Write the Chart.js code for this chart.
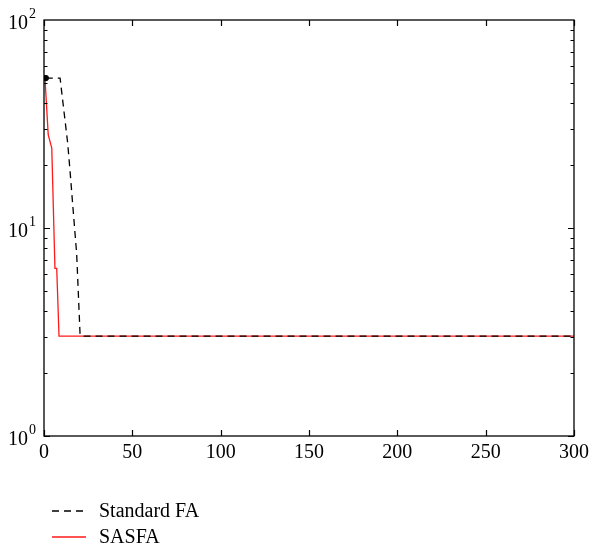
<!DOCTYPE html>
<html>
<head>
<meta charset="utf-8">
<script src="https://cdn.jsdelivr.net/npm/chart.js@4.4.1/dist/chart.umd.min.js"></script>
<style>
    html, body { margin: 0; padding: 0; background: #fff; }
    #wrap { width: 592px; height: 547px; }
</style>
</head>
<body>
<div id="wrap"><canvas id="conv" width="592" height="547"></canvas></div>
<script>
    "use strict";

    // ---------------------------------------------------------
    // Data: best fitness per iteration
    // ---------------------------------------------------------
    const stdIter = [1, 9.1, 13.4, 14.7, 16.2, 18.5, 20.4, 21, 300];
    const stdFit = [52.6, 52.6, 25.6, 19, 13.1, 7.5, 3.1, 3.02, 3.02];

    const sasIter = [0.6, 2.4, 4.4, 6.2, 7.2, 8.5, 300];
    const sasFit = [51.5, 28, 24.2, 6.4, 6.4, 3.02, 3.02];

    const xTicks = [0, 50, 100, 150, 200, 250, 300];
    const yDecades = [0, 1, 2];

    const FONT = '"Liberation Serif", "Times New Roman", serif';

    function toPoints(xs, ys) {
        return xs.map((x, i) => ({ x: x, y: ys[i] }));
    }

    // ---------------------------------------------------------
    // Frame, inward ticks, labels and legend
    // ---------------------------------------------------------
    const framePlugin = {
        id: "frame",
        afterDraw(chart) {
            const ctx = chart.ctx;
            const a = chart.chartArea;
            const xs = chart.scales.x;
            const ys = chart.scales.y;

            ctx.save();
            ctx.strokeStyle = "#000";
            ctx.lineWidth = 1.3;
            ctx.strokeRect(a.left, a.top, a.right - a.left, a.bottom - a.top);

            ctx.lineWidth = 1.2;
            ctx.beginPath();
            // x ticks, bottom and top
            xTicks.forEach((v) => {
                const px = Math.round(xs.getPixelForValue(v)) + 0.5;
                ctx.moveTo(px, a.bottom); ctx.lineTo(px, a.bottom - 6);
                ctx.moveTo(px, a.top); ctx.lineTo(px, a.top + 6);
            });
            // y ticks, left and right (major + minor)
            for (let d = 0; d < 2; d++) {
                for (let m = 1; m <= 9; m++) {
                    const v = m * Math.pow(10, d);
                    const py = Math.round(ys.getPixelForValue(v)) + 0.5;
                    const len = m === 1 ? 6 : 3.5;
                    ctx.moveTo(a.left, py); ctx.lineTo(a.left + len, py);
                    ctx.moveTo(a.right, py); ctx.lineTo(a.right - len, py);
                }
            }
            ctx.stroke();

            // tick labels
            ctx.fillStyle = "#000";
            ctx.font = "20px " + FONT;
            ctx.textAlign = "center";
            ctx.textBaseline = "middle";
            xTicks.forEach((v) => {
                ctx.fillText(String(v), xs.getPixelForValue(v), a.bottom + 17);
            });

            yDecades.forEach((p) => {
                const py = ys.getPixelForValue(Math.pow(10, p));
                ctx.font = "20px " + FONT;
                ctx.textAlign = "right";
                ctx.textBaseline = "middle";
                ctx.fillText("10", 28, py + 4);
                ctx.font = "14px " + FONT;
                ctx.textAlign = "left";
                ctx.fillText(String(p), 29, py - 6);
            });

            // legend
            ctx.textAlign = "left";
            ctx.textBaseline = "middle";
            const rows = [511, 537];
            chart.data.datasets.forEach((ds, i) => {
                const y = rows[i];
                ctx.beginPath();
                ctx.strokeStyle = ds.borderColor;
                ctx.lineWidth = ds.borderWidth;
                ctx.setLineDash(ds.borderDash || []);
                ctx.moveTo(52, y);
                ctx.lineTo(86, y);
                ctx.stroke();
                ctx.setLineDash([]);
                ctx.fillStyle = "#000";
                ctx.font = "20px " + FONT;
                ctx.fillText(ds.label, 99, y + 1);
            });
            ctx.restore();
        },
    };

    new Chart(document.getElementById("conv"), {
        type: "line",
        data: {
            datasets: [
                {
                    label: "Standard FA",
                    data: toPoints(stdIter, stdFit),
                    borderColor: "#000",
                    backgroundColor: "#000",
                    borderWidth: 1.3,
                    borderDash: [7, 5],
                    pointRadius: stdIter.map((_, i) => (i === 0 ? 2.5 : 0)),
                    tension: 0,
                },
                {
                    label: "SASFA",
                    data: toPoints(sasIter, sasFit),
                    borderColor: "#ff1a1a",
                    borderWidth: 1.3,
                    pointRadius: 0,
                    tension: 0,
                },
            ],
        },
        options: {
            responsive: false,
            animation: false,
            layout: { padding: { left: 44, top: 20, right: 18, bottom: 111 } },
            plugins: {
                legend: { display: false },
                tooltip: { enabled: false },
            },
            scales: {
                x: { type: "linear", min: 0, max: 300, display: false },
                y: { type: "logarithmic", min: 1, max: 100, display: false },
            },
        },
        plugins: [framePlugin],
    });
</script>
</body>
</html>
